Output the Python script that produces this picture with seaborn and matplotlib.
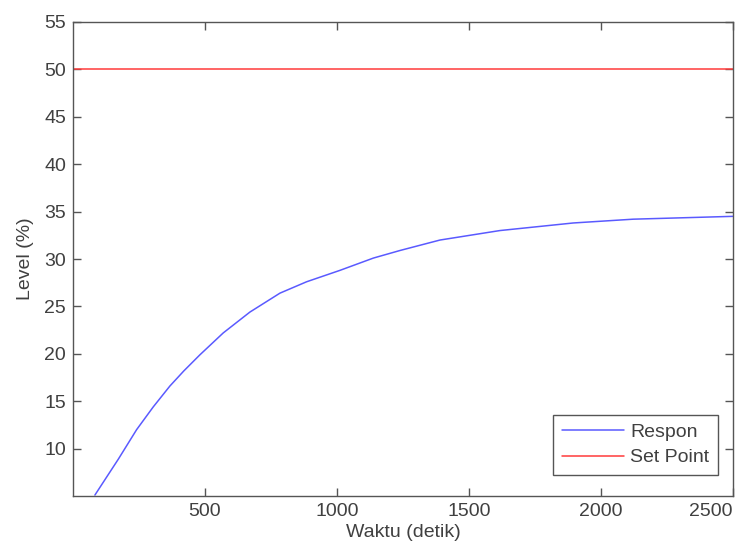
import numpy as np
import pandas as pd
import matplotlib
matplotlib.use("Agg")
import matplotlib.pyplot as plt
import seaborn as sns

# response curve
waktu = [83, 172, 241, 304, 367, 420, 481, 569, 670, 784, 885, 1011, 1138,
         1239, 1390, 1617, 1895, 2122, 2500]
respon = [5.1, 8.9, 12.0, 14.4, 16.6, 18.2, 19.9, 22.2, 24.4, 26.4, 27.6, 28.8,
          30.1, 30.9, 32.0, 33.0, 33.8, 34.2, 34.5]

setpoint_x = [0, 2500]
setpoint_y = [50, 50]

x_ticks = [500, 1000, 1500, 2000, 2500]
y_ticks = [10, 15, 20, 25, 30, 35, 40, 45, 50, 55]

sns.set_theme(style="white")
plt.rcParams['font.family'] = ['Liberation Sans', 'DejaVu Sans']

fig = plt.figure(figsize=(7.53, 5.51), dpi=100)
ax = fig.add_axes([73 / 753, 55 / 551, 660 / 753, 474 / 551])

df_resp = pd.DataFrame({"Waktu": waktu, "Level": respon})
df_sp = pd.DataFrame({"Waktu": setpoint_x, "Level": setpoint_y})

sns.lineplot(data=df_resp, x="Waktu", y="Level", ax=ax, color="#5a5aff",
             linewidth=1.1, label="Respon")
sns.lineplot(data=df_sp, x="Waktu", y="Level", ax=ax, color="#ff3b3b",
             linewidth=1.1, label="Set Point")

ax.set_xlim(0, 2500)
ax.set_ylim(5, 55)
ax.set_xticks(x_ticks)
ax.set_yticks(y_ticks)

txt_col = "#404040"
ax.set_xlabel("Waktu (detik)", fontsize=14, color=txt_col, labelpad=3)
ax.set_ylabel("Level (%)", fontsize=14, color=txt_col, labelpad=7)

for s in ax.spines.values():
    s.set_color("#555555")
    s.set_linewidth(1.0)
    s.set_visible(True)

ax.tick_params(direction="in", length=6, width=1, color="#555555",
               labelsize=14, labelcolor=txt_col, top=True, right=True,
               bottom=True, left=True, pad=5)

# last x label sits right at the figure edge; keep it inside
ax.get_xticklabels()[-1].set_horizontalalignment("right")
ax.get_xticklabels()[-1].set_x(2500)

leg = ax.legend(loc="lower right", bbox_to_anchor=(0.977, 0.044),
                borderaxespad=0, fontsize=14, frameon=True, fancybox=False,
                edgecolor="#555555", framealpha=1, handlelength=3.2,
                borderpad=0.45, labelspacing=0.4, handletextpad=0.3)
for t in leg.get_texts():
    t.set_color(txt_col)
leg.get_frame().set_linewidth(1.0)

fig.savefig("out.png", dpi=100)
